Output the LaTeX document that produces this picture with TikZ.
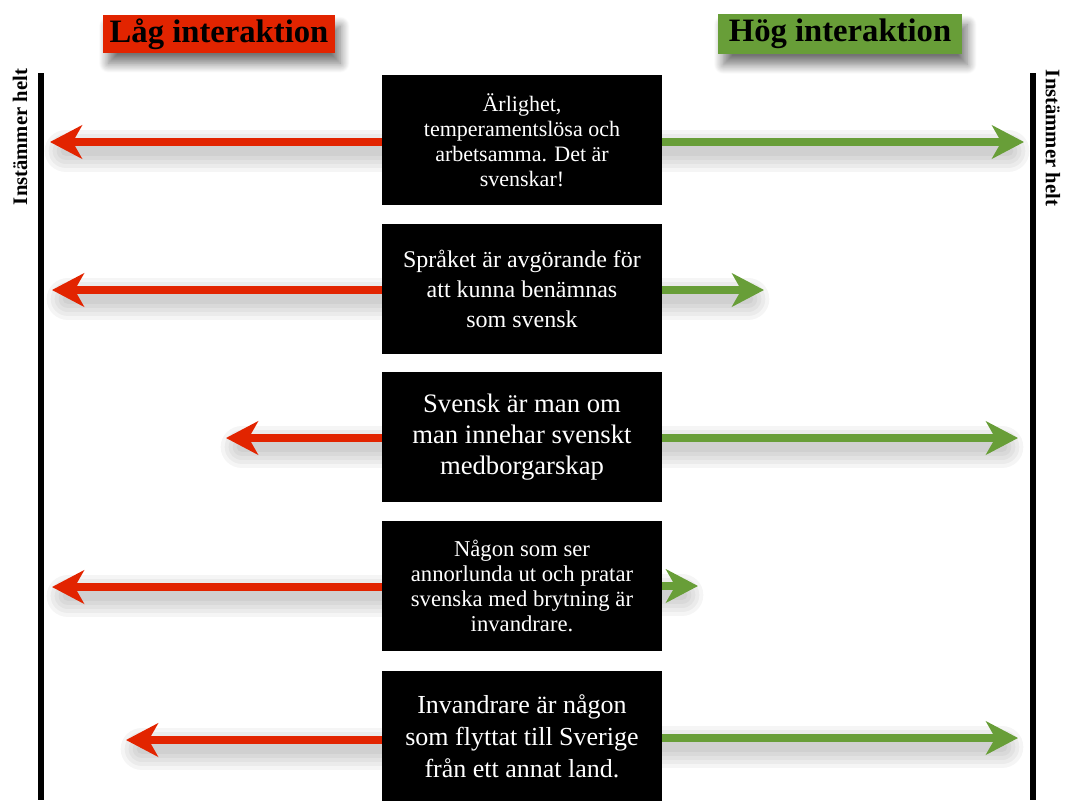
\documentclass[tikz,border=0pt]{standalone}
\usepackage{fontspec}
\setmainfont{Liberation Serif}
\usetikzlibrary{arrows.meta,shadows.blur,calc}
\definecolor{lowred}{RGB}{226,36,0}
\definecolor{highgreen}{RGB}{104,158,56}
\tikzset{
  stmt/.style={fill=black, text=white, minimum width=210pt, minimum height=97.5pt, align=center, inner sep=0pt},
  titlebox/.style={font=\bfseries\fontsize{24.5}{26}\selectfont, text=black, inner xsep=0pt, inner ysep=2pt,
     blur shadow={shadow xshift=4pt, shadow yshift=-8pt, shadow blur steps=14, shadow blur radius=7pt, shadow opacity=55}},
  scale bar/.style={line width=4.5pt, black},
  sidelabel/.style={font=\bfseries\fontsize{15.5}{17}\selectfont},
  redarrow/.style={line width=6pt, lowred, -{Stealth[length=24pt, width=25pt, inset=7pt]}},
  greenarrow/.style={line width=6pt, highgreen, -{Stealth[length=24pt, width=25pt, inset=7pt]}},
}
\newcommand{\arrowshade}[2]{%
  \foreach \w in {32,26,20,14,8}{
    \draw[line width=\w pt, black, opacity=0.04, line cap=round, shorten >=12pt] ($(#1)+(0,9)$) -- ($(#2)+(0,9)$);
  }%
}
\begin{document}
\begin{tikzpicture}[x=0.75pt,y=-0.75pt]
\useasboundingbox (0,0) rectangle (1066,800);

% titles
\node[titlebox, fill=lowred, minimum width=174pt, minimum height=28pt] (tl) at (219,34) {Låg interaktion};
\node[titlebox, fill=highgreen, minimum width=183pt, minimum height=30pt] (th) at (840,34) {Hög interaktion};

% side bars
\coordinate (lbtop) at (41,73);
\coordinate (lbbot) at (41,800);
\coordinate (rbtop) at (1033,73);
\coordinate (rbbot) at (1033,800);
\draw[scale bar] (lbtop) -- (lbbot);
\draw[scale bar] (rbtop) -- (rbbot);
\node[sidelabel, rotate=90] (ll) at (20,137) {Instämmer helt};
\node[sidelabel, rotate=-90] (rl) at (1053,138) {Instämmer helt};

% arrow tips
\coordinate (l1) at (50,142);
\coordinate (l2) at (52,290);
\coordinate (l3) at (226,438);
\coordinate (l4) at (52,587);
\coordinate (l5) at (126,740);
\coordinate (r1) at (1024,142);
\coordinate (r2) at (764,290);
\coordinate (r3) at (1018,438);
\coordinate (r4) at (698,586);
\coordinate (r5) at (1018,738);

% box centres
\coordinate (c1) at (522,140);
\coordinate (c2) at (522,289);
\coordinate (c3) at (522,437);
\coordinate (c4) at (522,585.5);
\coordinate (c5) at (522,736);

\foreach \i in {1,...,5}{
  \node[minimum width=210pt, minimum height=97.5pt, inner sep=0pt] (f\i) at (c\i) {};
  \coordinate (sl\i) at (f\i.west |- l\i);
  \coordinate (sr\i) at (f\i.east |- r\i);
}
\foreach \i in {1,...,5}{
  \arrowshade{sl\i}{l\i}
  \arrowshade{sr\i}{r\i}
}
\foreach \i in {1,...,5}{
  \draw[redarrow] (sl\i) -- (l\i);
  \draw[greenarrow] (sr\i) -- (r\i);
}

% statements
\node[stmt, font=\fontsize{16.5}{18.75}\selectfont] (b1) at (c1) {Ärlighet,\\temperamentslösa och\\arbetsamma. Det är\\svenskar!};
\node[stmt, font=\fontsize{18}{22.5}\selectfont] (b2) at (c2) {Språket är avgörande för\\att kunna benämnas\\som svensk};
\node[stmt, font=\fontsize{20}{23.5}\selectfont] (b3) at (c3) {Svensk är man om\\man innehar svenskt\\medborgarskap};
\node[stmt, font=\fontsize{17}{18.75}\selectfont] (b4) at (c4) {Någon som ser\\annorlunda ut och pratar\\svenska med brytning är\\invandrare.};
\node[stmt, font=\fontsize{19.5}{24}\selectfont] (b5) at (c5) {Invandrare är någon\\som flyttat till Sverige\\från ett annat land.};
\end{tikzpicture}
\end{document}
